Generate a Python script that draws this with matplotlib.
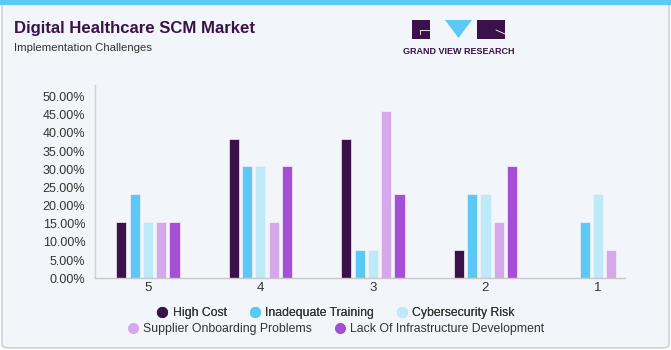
import matplotlib
matplotlib.use("Agg")
import matplotlib.pyplot as plt
import numpy as np
from matplotlib.patches import FancyBboxPatch, Rectangle, Polygon
from matplotlib.lines import Line2D

categories = ["5", "4", "3", "2", "1"]
series_names = ["High Cost", "Inadequate Training", "Cybersecurity Risk",
                "Supplier Onboarding Problems", "Lack Of Infrastructure Development"]
high_cost = [15.38, 38.46, 38.46, 7.69, 0.0]
inadequate_training = [23.08, 30.77, 7.69, 23.08, 15.38]
cybersecurity_risk = [15.38, 30.77, 7.69, 23.08, 23.08]
supplier_onboarding = [15.38, 15.38, 46.15, 15.38, 7.69]
lack_infrastructure = [15.38, 30.77, 23.08, 30.77, 0.0]
yticks = [0, 5, 10, 15, 20, 25, 30, 35, 40, 45, 50]

colors = ["#3a1148", "#5bc8f5", "#bde9f9", "#d5a8eb", "#a44fd6"]
values = [high_cost, inadequate_training, cybersecurity_risk, supplier_onboarding, lack_infrastructure]

bg = "#f2f5f9"
fig = plt.figure(figsize=(6.71, 3.5), dpi=100)
fig.patch.set_facecolor("white")

card = FancyBboxPatch((0.003, 0.006), 0.994, 0.985, boxstyle="round,pad=0,rounding_size=0.01",
                      transform=fig.transFigure, facecolor=bg, edgecolor="#cfd3d8", linewidth=1.2, zorder=-2)
fig.patches.append(card)
fig.patches.append(Rectangle((0.0, 0.985), 1.0, 0.015, transform=fig.transFigure,
                             facecolor="#5bc8f5", edgecolor="none", zorder=-1))

font = "Liberation Sans"
fig.text(14/671, 1-28/350, "Digital Healthcare SCM Market", fontsize=12.1, fontweight="bold",
         color="#3a1148", family=font, va="center", ha="left")
fig.text(14/671, 1-48/350, "Implementation Challenges", fontsize=8.2, color="#333333",
         family=font, va="center", ha="left")

def fx(x): return x/671
def fy(y): return 1-y/350
fig.patches.append(Rectangle((fx(412), fy(39)), fx(18), 19/350, transform=fig.transFigure,
                             facecolor="#3a1148", edgecolor="none"))
fig.lines.append(Line2D([fx(420), fx(430)], [fy(30), fy(30)], transform=fig.transFigure, color="white", lw=0.6))
fig.lines.append(Line2D([fx(420), fx(420)], [fy(30), fy(34)], transform=fig.transFigure, color="white", lw=0.6))
fig.patches.append(Polygon([[fx(445), fy(20)], [fx(472), fy(20)], [fx(458.5), fy(38)]], closed=True,
                           transform=fig.transFigure, facecolor="#5bc8f5", edgecolor="none"))
fig.patches.append(Rectangle((fx(477), fy(39)), fx(28), 19/350, transform=fig.transFigure,
                             facecolor="#3a1148", edgecolor="none"))
fig.lines.append(Line2D([fx(496), fx(505)], [fy(30), fy(34)], transform=fig.transFigure, color="white", lw=0.6))
fig.text(fx(458.5), fy(51), "GRAND VIEW RESEARCH", fontsize=6.5, fontweight="bold", color="#3a1148",
         family=font, ha="center", va="center")

ax = fig.add_axes([95/671, 1-278.3/350, (625-95)/671, (278.3-85)/350])
ax.set_facecolor("none")
ax.set_zorder(2)
n = len(series_names)
x = np.arange(len(categories))
step = 0.118
width = 0.09
for i in range(len(categories)):
    present = [s for s in range(n) if values[s][i] > 0]
    k = len(present)
    for j, s in enumerate(present):
        off = (j - (k-1)/2) * step
        ax.bar(x[i] + off, values[s][i], width=width, color=colors[s], edgecolor="#f4f0f8",
               linewidth=0.5, zorder=2)

ax.set_xlim(-0.47, 4.24)
ax.set_ylim(0, 53.2)
ax.set_yticks(yticks)
ax.set_yticklabels([f"{v:.2f}%" for v in yticks], family=font, fontsize=9, color="#333333")
ax.set_xticks(x)
ax.set_xticklabels(categories, family=font, fontsize=9.5, color="#333333")
ax.tick_params(axis="both", length=0)
ax.tick_params(axis="y", pad=7)
ax.tick_params(axis="x", pad=3)
for sp in ["top", "right"]:
    ax.spines[sp].set_visible(False)
ax.spines["left"].set_color("#d0d0d0")
ax.spines["bottom"].set_color("#c8c8c8")
ax.spines["left"].set_linewidth(1)
ax.spines["bottom"].set_linewidth(1)

def handle(c):
    return Line2D([], [], marker="o", linestyle="none", markersize=7, markerfacecolor=c, markeredgecolor=c)

leg1 = fig.legend([handle(colors[s]) for s in range(3)], series_names[:3], loc="center",
                  bbox_to_anchor=(0.5, 1-313/350), ncol=3, frameon=False,
                  prop={"family": font, "size": 8.8}, handletextpad=0.35, columnspacing=1.8, labelcolor="#333333",
                  handlelength=1.0)
leg2 = fig.legend([handle(colors[s]) for s in range(3, 5)], series_names[3:], loc="center",
                  bbox_to_anchor=(0.5, 1-329/350), ncol=2, frameon=False,
                  prop={"family": font, "size": 8.8}, handletextpad=0.35, columnspacing=1.8, labelcolor="#333333",
                  handlelength=1.0)
fig.add_artist(leg1)

fig.savefig("out.png", dpi=100, facecolor=fig.get_facecolor())
